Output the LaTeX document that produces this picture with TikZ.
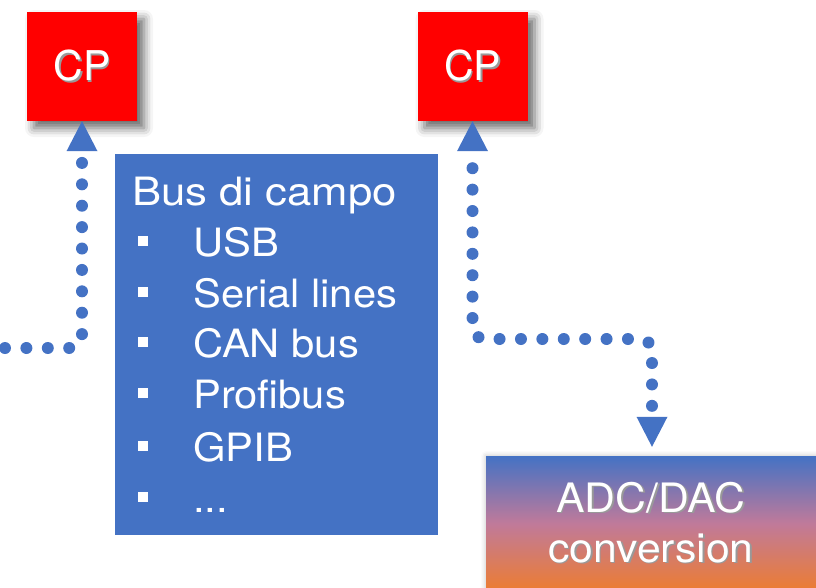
\documentclass[tikz,border=0pt]{standalone}
\usepackage{fontspec}
\setmainfont{TeX Gyre Heros}
\newfontfamily\bussans[FakeStretch=1.07]{TeX Gyre Heros}
\newfontfamily\titlesans[FakeStretch=1.12]{TeX Gyre Heros}
\newfontfamily\adcsans[FakeStretch=1.055]{TeX Gyre Heros}
\usetikzlibrary{arrows.meta,shadows.blur}
\definecolor{busblue}{HTML}{4472C4}
\definecolor{cpred}{HTML}{FF0000}
\definecolor{adcorange}{HTML}{ED7D31}
\definecolor{adcmauve}{HTML}{C07A9A}
% white lettering with a soft drop shadow
\newcommand\shadowtext[1]{\rlap{\hspace{1.5pt}\raisebox{-1.5pt}{\textcolor{black!40}{#1}}}#1}
\newcommand\busdots{...}

\begin{document}
\begin{tikzpicture}[x=1pt,y=-1pt,
  cpbox/.style={fill=cpred, minimum width=110pt, minimum height=109pt, inner sep=0pt,
    text=white, font=\fontsize{41}{41}\selectfont,
    blur shadow={shadow xshift=7pt, shadow yshift=-7pt, shadow blur radius=9pt, shadow opacity=60}},
  busbox/.style={fill=busblue, minimum width=323pt, minimum height=381pt, inner sep=0pt},
  bustext/.style={anchor=base west, inner sep=0pt, text=white, font=\bussans\fontsize{39}{39}\selectfont},
  adcbox/.style={top color=busblue, bottom color=adcorange, middle color=adcmauve, minimum width=332pt, minimum height=135pt,
    inner sep=0pt, blur shadow={shadow xshift=0pt, shadow yshift=0pt, shadow blur radius=5pt, shadow opacity=25}},
  adctext/.style={anchor=base, inner sep=0pt, text=white, font=\adcsans\fontsize{40.5}{40.5}\selectfont},
  conn/.style={draw=busblue, line width=12pt, line cap=round, dash pattern=on 0pt off 21.4pt, rounded corners=12pt},
  tip/.tip={Triangle[width=31pt,length=30pt,line width=0pt]}
]
\useasboundingbox (0,0) rectangle (816,587);

% boxes
\node[cpbox] (cp1) at (82,66.5) {\shadowtext{CP}};
\node[cpbox] (cp2) at (472.5,66.5) {\shadowtext{CP}};
\node[busbox] (bus) at (276.5,344.5) {};
\node[adcbox] (adc) at (652,523.5) {};

% field bus list
\node[bustext, font=\titlesans\fontsize{39}{39}\selectfont] (bustitle) at (132,205) {Bus di campo};
\foreach \item/\yb [count=\i] in {USB/256, Serial lines/307, CAN bus/357, Profibus/408, GPIB/461, \busdots/512}
  \node[bustext] (busitem\i) at (138,\yb) {\makebox[55pt][l]{\raisebox{10pt}{\rule{10pt}{10pt}}}\item};

% conversion label
\node[adctext] (adc1) at (651,512) {\shadowtext{ADC/DAC}};
\node[adctext] (adc2) at (651,562) {\shadowtext{conversion}};

% dotted connectors
\coordinate (lstart) at (5,348);
\coordinate (rbend) at (652,339);
\draw[conn,-tip] (lstart) -| (cp1.south);
\draw[conn,dash phase=4.4pt,tip-tip,shorten >=9pt] (cp2.south) |- (rbend) -- (adc.north);
\end{tikzpicture}
\end{document}
